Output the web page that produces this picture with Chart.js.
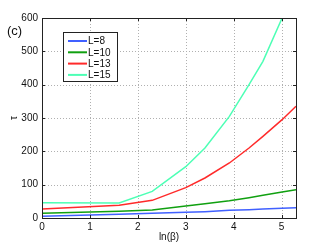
<!DOCTYPE html>
<html><head><meta charset="utf-8">
<script src="https://cdn.jsdelivr.net/npm/chart.js@4.4.0/dist/chart.umd.min.js"></script>
<style>html,body{margin:0;padding:0;background:#fff}#w{width:327px;height:246px;position:relative}</style>
</head><body><div id="w"><canvas id="c"></canvas></div>
<script>
const lnBeta = [0, 1.61, 2.30, 3.00, 3.40, 3.91, 4.32, 4.61, 5.01, 5.30];
const seriesL8  = [5, 11, 14, 17, 19, 23, 25, 27, 29, 31];
const seriesL10 = [14, 20, 24, 36, 43, 52, 61, 68, 78, 85];
const seriesL13 = [27, 38, 53, 91, 120, 165, 210, 245, 295, 335];
const seriesL15 = [46, 45, 80, 154, 210, 305, 400, 470, 600, 720];
const labels = ['L=8', 'L=10', 'L=13', 'L=15'];
const xTicks = [0, 1, 2, 3, 4, 5];
const yTicks = [0, 100, 200, 300, 400, 500, 600];
const colors = ['#4060ff', '#10a010', '#ff2a2a', '#4dffb5'];
const FONT = 'Liberation Sans, Arial, sans-serif';

function pts(ys){ return lnBeta.map((x,i)=>({x, y: ys[i]})); }
const all = [seriesL8, seriesL10, seriesL13, seriesL15];

const gridPlugin = {
  id: 'gridPlugin',
  beforeDatasetsDraw(chart){
    const {ctx, chartArea:a, scales} = chart;
    ctx.save();
    ctx.strokeStyle = '#b0b0b0'; ctx.lineWidth = 1; ctx.setLineDash([1,2]);
    ctx.beginPath();
    xTicks.forEach(v=>{ const px = Math.round(scales.x.getPixelForValue(v))+0.5;
      ctx.moveTo(px, a.top); ctx.lineTo(px, a.bottom); });
    yTicks.forEach(v=>{ const py = Math.round(scales.y.getPixelForValue(v))+0.5;
      ctx.moveTo(a.left, py); ctx.lineTo(a.right, py); });
    ctx.stroke();
    ctx.restore();
  }
};

const boxPlugin = {
  id: 'boxPlugin',
  afterDraw(chart){
    const {ctx, chartArea:a, scales} = chart;
    ctx.save();
    ctx.strokeStyle = '#222'; ctx.lineWidth = 1;
    ctx.strokeRect(Math.round(a.left)+0.5, Math.round(a.top)+0.5, Math.round(a.right-a.left), Math.round(a.bottom-a.top));
    const tl = 3;
    ctx.beginPath();
    xTicks.forEach(v=>{ const px = Math.round(scales.x.getPixelForValue(v))+0.5;
      ctx.moveTo(px, a.bottom); ctx.lineTo(px, a.bottom-tl);
      ctx.moveTo(px, a.top); ctx.lineTo(px, a.top+tl); });
    yTicks.forEach(v=>{ const py = Math.round(scales.y.getPixelForValue(v))+0.5;
      ctx.moveTo(a.left, py); ctx.lineTo(a.left+tl, py);
      ctx.moveTo(a.right, py); ctx.lineTo(a.right-tl, py); });
    ctx.stroke();
    const lx = 63.5, ly = 32.5, lw = 54, lh = 49;
    ctx.fillStyle = '#fff'; ctx.fillRect(lx, ly, lw, lh);
    ctx.strokeStyle = '#222'; ctx.strokeRect(lx, ly, lw, lh);
    ctx.font = '10px ' + FONT; ctx.textBaseline = 'middle'; ctx.textAlign = 'left';
    chart.data.datasets.forEach((ds,i)=>{
      const y = 41 + i*11.3;
      ctx.strokeStyle = ds.borderColor; ctx.lineWidth = 2;
      ctx.beginPath(); ctx.moveTo(68, y); ctx.lineTo(87, y); ctx.stroke();
      ctx.fillStyle = '#111'; ctx.fillText(ds.label, 88, y+0.5);
    });
    ctx.font = '13px ' + FONT; ctx.fillStyle = '#111';
    ctx.fillText('(c)', 7, 31);
    ctx.restore();
  }
};

new Chart(document.getElementById('c'), {
  type: 'line',
  data: { datasets: all.map((ys,i)=>({
    label: labels[i], data: pts(ys), borderColor: colors[i], backgroundColor: colors[i],
    borderWidth: 1.5, pointRadius: 0, tension: 0, fill: false
  })) },
  options: {
    responsive: true, maintainAspectRatio: false, animation: false,
    layout: { padding: { left: 0, top: 18, right: 31, bottom: 0 } },
    plugins: { legend: { display: false }, tooltip: { enabled: false } },
    scales: {
      x: { type: 'linear', min: 0, max: 5.3,
        afterBuildTicks(s){ s.ticks = xTicks.map(v=>({value:v})); },
        afterFit(s){ s.height = 28; },
        grid: { display: false, drawTicks: false },
        border: { display: false },
        ticks: { font: { size: 10, family: FONT }, color: '#111', padding: 3, maxRotation: 0 },
        title: { display: true, text: 'ln(β)', font: { size: 10, family: FONT }, color: '#111', padding: { top: 0, bottom: 3 } }
      },
      y: { min: 0, max: 600,
        afterBuildTicks(s){ s.ticks = yTicks.map(v=>({value:v})); },
        afterFit(s){ s.width = 42; },
        grid: { display: false, drawTicks: false },
        border: { display: false },
        ticks: { font: { size: 10, family: FONT }, color: '#111', padding: 4 },
        title: { display: true, text: 'τ', font: { size: 10, family: FONT }, color: '#111', padding: { top: 8, bottom: 0 } }
      }
    }
  },
  plugins: [gridPlugin, boxPlugin]
});
</script></body></html>
